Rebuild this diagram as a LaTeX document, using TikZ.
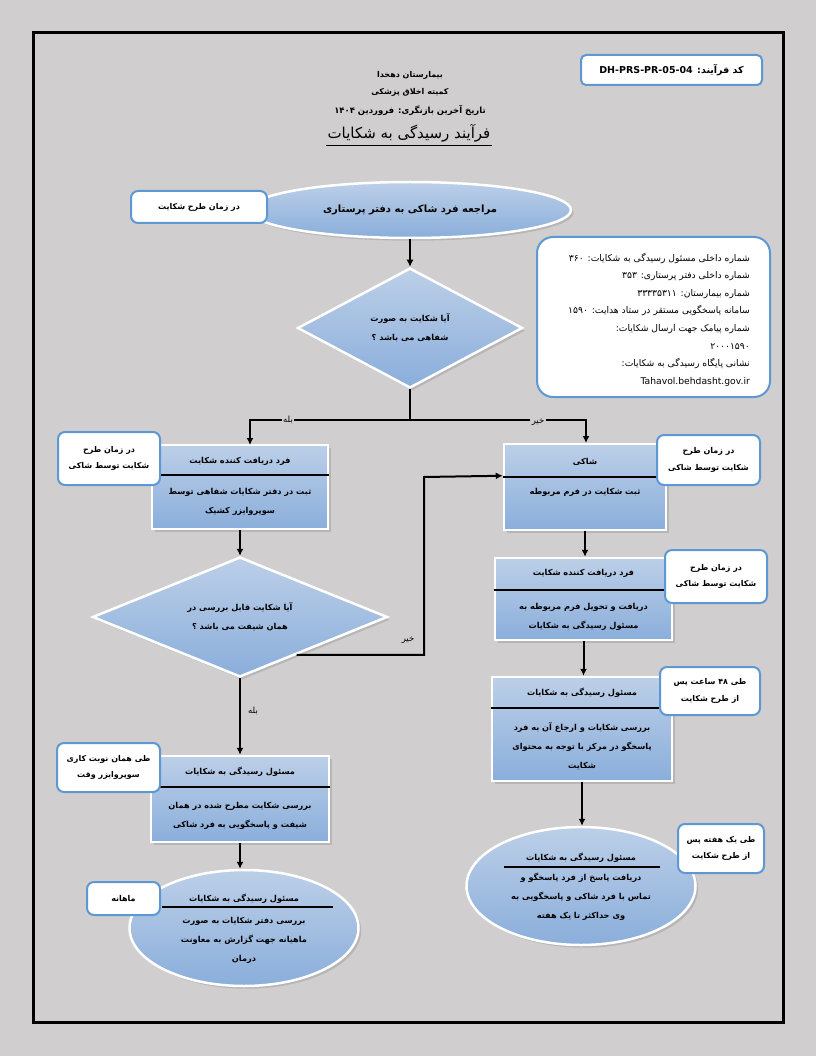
\documentclass[tikz,border=0pt]{standalone}
\usepackage{fontspec}
\setmainfont{DejaVu Sans}
\newfontfamily\arabicfont[Script=Arabic]{DejaVu Sans}
\usepackage{tikz}
\usetikzlibrary{arrows.meta, shapes.geometric, calc, shadows}
\TeXXeTstate=1

\definecolor{pagegray}{RGB}{208,206,206}
\definecolor{boxtop}{RGB}{188,207,232}
\definecolor{boxbot}{RGB}{138,174,219}
\definecolor{noteblue}{RGB}{94,152,211}

\newcommand{\fatxt}[1]{{\arabicfont\beginR #1\endR}}
\newcommand{\boxfont}{\fontsize{8.2}{19}\selectfont\bfseries}
\newcommand{\notefont}{\fontsize{8}{16.5}\selectfont\bfseries}
\newcommand{\infofont}{\fontsize{9.2}{17.6}\selectfont}

\begin{document}
\begin{tikzpicture}[x=1pt, y=-1pt,
    flow/.style={line width=2pt, -{Latex[length=7pt, width=7pt]}},
    procbox/.style={rectangle, draw=white, line width=2.5pt, top color=boxtop,
                    bottom color=boxbot, drop shadow={opacity=0.3}, inner sep=0pt},
    termshape/.style={procbox, ellipse},
    decide/.style={procbox, diamond, aspect=2, align=center, font=\boxfont},
    notebox/.style={rectangle, rounded corners=7pt, draw=noteblue, line width=2pt,
                    fill=white, align=center, inner sep=0pt, font=\notefont},
    headtxt/.style={font=\boxfont, inner sep=0pt},
    bodytxt/.style={font=\boxfont, align=center, inner sep=0pt},
    yesno/.style={font=\fontsize{8.5}{10}\selectfont, fill=pagegray, inner sep=1.5pt},
    sepline/.style={line width=1.8pt}]
  % page and frame
  \fill[pagegray] (0,0) rectangle (816,1056);
  \draw[line width=3pt] (33,33) rectangle (783,1022);

  % heading
  \node[font=\fontsize{8}{10}\selectfont\bfseries, inner sep=0pt] (hosp) at (410,75) {\fatxt{بیمارستان دهخدا}};
  \node[font=\fontsize{8}{10}\selectfont\bfseries, inner sep=0pt] (cmte) at (410,92) {\fatxt{کمیته اخلاق پزشکی}};
  \node[font=\fontsize{8.5}{10}\selectfont\bfseries, inner sep=0pt] (revd) at (410,110) {\fatxt{تاریخ آخرین بازنگری: فروردین ۱۴۰۴}};
  \node[font=\fontsize{15}{17}\selectfont, inner sep=1pt] (ttl) at (409,133) {\fatxt{فرآیند رسیدگی به شکایات}};
  \draw[line width=0.8pt] ([yshift=-2pt]ttl.south west) -- ([yshift=-2pt]ttl.south east);
  \node[notebox, rounded corners=5pt, minimum width=181pt, minimum height=30pt,
        font=\fontsize{9.5}{11}\selectfont\bfseries] (code) at (671.5,70)
        {\fatxt{کد فرآیند: \beginL{\normalfont\bfseries DH-PRS-PR-05-04}\endL}};

  % flow shapes
  \node[termshape, minimum width=322pt, minimum height=56pt, font=\fontsize{10}{12}\selectfont\bfseries]
        (start) at (410,210) {\fatxt{مراجعه فرد شاکی به دفتر پرستاری}};
  \node[decide, minimum width=225pt, minimum height=120pt] (d1) at (410,328)
        {\fatxt{آیا شکایت به صورت}\\\fatxt{شفاهی می باشد ؟}};
  \node[procbox, minimum width=176pt, minimum height=84pt] (L1) at (240,487) {};
  \node[procbox, minimum width=162pt, minimum height=86pt] (R1) at (585,487) {};
  \node[decide, minimum width=295pt, minimum height=120pt] (d2) at (240,617)
        {\fatxt{آیا شکایت قابل بررسی در}\\\fatxt{همان شیفت می باشد ؟}};
  \node[procbox, minimum width=177pt, minimum height=82pt] (R2) at (583.5,599) {};
  \node[procbox, minimum width=180pt, minimum height=104pt] (R3) at (582,729) {};
  \node[procbox, minimum width=178pt, minimum height=86pt] (L2) at (240,799) {};
  \node[termshape, minimum width=229pt, minimum height=116pt] (E1) at (244,928) {};
  \node[termshape, minimum width=229pt, minimum height=118pt] (E2) at (581,886) {};

  % titles, rules and texts inside the boxes
  \node[headtxt] (L1h) at ($(L1.center)+(0,-26)$) {\fatxt{فرد دریافت کننده شکایت}};
  \draw[sepline] ($(L1.center)+(-89,-12)$) -- ($(L1.center)+(89,-12)$);
  \node[bodytxt] (L1b) at ($(L1.center)+(0,15)$) {\fatxt{ثبت در دفتر شکایات شفاهی توسط}\\\fatxt{سوپروایزر کشیک}};

  \node[headtxt] (R1h) at ($(R1.center)+(0,-25)$) {\fatxt{شاکی}};
  \draw[sepline] ($(R1.center)+(-82,-10)$) -- ($(R1.center)+(82,-10)$);
  \node[bodytxt] (R1b) at ($(R1.center)+(0,5)$) {\fatxt{ثبت شکایت در فرم مربوطه}};

  \node[headtxt] (R2h) at ($(R2.center)+(0,-26)$) {\fatxt{فرد دریافت کننده شکایت}};
  \draw[sepline] ($(R2.center)+(-90,-9)$) -- ($(R2.center)+(90,-9)$);
  \node[bodytxt] (R2b) at ($(R2.center)+(0,18)$) {\fatxt{دریافت و تحویل فرم مربوطه به}\\\fatxt{مسئول رسیدگی به شکایات}};

  \node[headtxt] (R3h) at ($(R3.center)+(0,-36)$) {\fatxt{مسئول رسیدگی به شکایات}};
  \draw[sepline] ($(R3.center)+(-91,-21)$) -- ($(R3.center)+(91,-21)$);
  \node[bodytxt] (R3b) at ($(R3.center)+(0,17)$) {\fatxt{بررسی شکایات و ارجاع آن به فرد}\\\fatxt{پاسخگو در مرکز با توجه به محتوای}\\\fatxt{شکایت}};

  \node[headtxt] (L2h) at ($(L2.center)+(0,-27)$) {\fatxt{مسئول رسیدگی به شکایات}};
  \draw[sepline] ($(L2.center)+(-90,-12)$) -- ($(L2.center)+(90,-12)$);
  \node[bodytxt] (L2b) at ($(L2.center)+(0,17)$) {\fatxt{بررسی شکایت مطرح شده در همان}\\\fatxt{شیفت و پاسخگویی به فرد شاکی}};

  \node[headtxt] (E1h) at ($(E1.center)+(0,-29)$) {\fatxt{مسئول رسیدگی به شکایات}};
  \draw[sepline] ($(E1.center)+(-82,-21)$) -- ($(E1.center)+(89,-21)$);
  \node[bodytxt] (E1b) at ($(E1.center)+(0,12)$) {\fatxt{بررسی دفتر شکایات به صورت}\\\fatxt{ماهیانه جهت گزارش به معاونت}\\\fatxt{درمان}};

  \node[headtxt] (E2h) at ($(E2.center)+(0,-28)$) {\fatxt{مسئول رسیدگی به شکایات}};
  \draw[sepline] ($(E2.center)+(-77,-19)$) -- ($(E2.center)+(79,-19)$);
  \node[bodytxt] (E2b) at ($(E2.center)+(0,11)$) {\fatxt{دریافت پاسخ از فرد پاسخگو و}\\\fatxt{تماس با فرد شاکی و پاسخگویی به}\\\fatxt{وی حداکثر تا یک هفته}};

  % connectors
  \coordinate (split) at (410,420);
  \coordinate (L1in) at (250,445);
  \coordinate (R1in) at (586,443);
  \coordinate (turn) at (424,477);
  \coordinate (R1side) at ($(R1.north west)+(0,33)$);
  \coordinate (d2exit) at ($(d2.east)!0.62!(d2.south)$);
  \draw[flow] (start) -- (d1);
  \draw[line width=2pt] (d1.south) -- (split);
  \draw[flow] (split) -| (L1in);
  \draw[flow] (split) -| (R1in);
  \draw[flow] (L1.south) -- (d2.north);
  \draw[flow] (d2exit) -| (turn) -- (R1side);
  \draw[flow] (d2.south) -- (L2.north);
  \draw[flow] (L2.south) -- (L2.south |- E1.north);
  \foreach \from/\to in {R1/R2, R2/R3, R3/E2}
    \draw[flow] (\from.south) -- (\from.south |- \to.north);
  \node[yesno] (yesA) at (288,420) {\fatxt{بله}};
  \node[yesno] (noA) at (538,422) {\fatxt{خیر}};
  \node[yesno, fill=none] (yesB) at (253,711) {\fatxt{بله}};
  \node[yesno, fill=none] (noB) at (408,640) {\fatxt{خیر}};

  % side notes
  \node[notebox, rounded corners=16pt, minimum width=233pt, minimum height=160pt] (info) at (653.5,317) {};
  \node[font=\infofont, align=right, inner sep=0pt, anchor=east] (infotxt) at (750,319.5)
    {\fatxt{شماره داخلی مسئول رسیدگی به شکایات: ۳۶۰}\\
     \fatxt{شماره داخلی دفتر پرستاری: ۳۵۳}\\
     \fatxt{شماره بیمارستان: ۳۳۳۳۵۳۱۱}\\
     \fatxt{سامانه پاسخگویی مستقر در ستاد هدایت: ۱۵۹۰}\\
     \fatxt{شماره پیامک جهت ارسال شکایات:}\\
     \fatxt{۲۰۰۰۱۵۹۰}\\
     \fatxt{نشانی پایگاه رسیدگی به شکایات:}\\
     Tahavol.behdasht.gov.ir};
  \node[notebox, minimum width=136pt, minimum height=32pt] (nS) at (199,207) {\fatxt{در زمان طرح شکایت}};
  \node[notebox, minimum width=102pt, minimum height=53pt] (nL1) at (109,458.5) {\fatxt{در زمان طرح}\\\fatxt{شکایت توسط شاکی}};
  \node[notebox, minimum width=103pt, minimum height=50pt] (nR1) at (708.5,460) {\fatxt{در زمان طرح}\\\fatxt{شکایت توسط شاکی}};
  \node[notebox, minimum width=102pt, minimum height=53pt] (nR2) at (716,576.5) {\fatxt{در زمان طرح}\\\fatxt{شکایت توسط شاکی}};
  \node[notebox, minimum width=100pt, minimum height=48pt] (nR3) at (710,691) {\fatxt{طی ۴۸ ساعت پس}\\\fatxt{از طرح شکایت}};
  \node[notebox, minimum width=103pt, minimum height=49pt] (nL2) at (108.5,767.5) {\fatxt{طی همان نوبت کاری}\\\fatxt{سوپروایزر وقت}};
  \node[notebox, minimum width=73pt, minimum height=33pt] (nE1) at (123.5,898.5) {\fatxt{ماهانه}};
  \node[notebox, minimum width=86pt, minimum height=49pt] (nE2) at (721,848.5) {\fatxt{طی یک هفته پس}\\\fatxt{از طرح شکایت}};
\end{tikzpicture}
\end{document}
